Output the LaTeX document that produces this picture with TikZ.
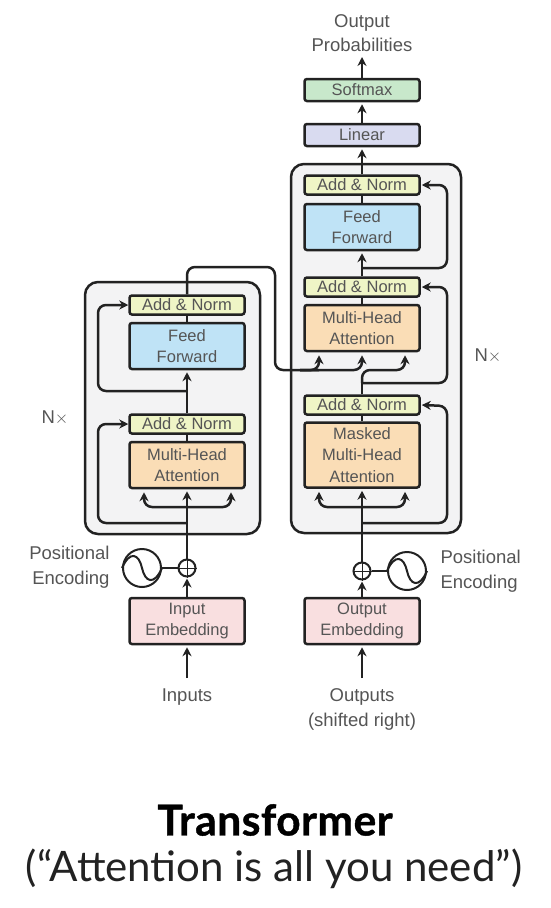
\documentclass[tikz,border=0pt]{standalone}
\usepackage{fontspec}
\setmainfont{Liberation Sans}
\newfontfamily\titlefont[BoldFeatures={FakeBold=1,LetterSpace=1.2}]{Lato}
\usepackage{xcolor}
\usetikzlibrary{arrows.meta, positioning}

\definecolor{linecol}{HTML}{222222}
\definecolor{textcol}{HTML}{555555}
\definecolor{panelcol}{HTML}{F3F3F4}
\definecolor{normcol}{HTML}{EFF5C6}
\definecolor{feedcol}{HTML}{BFE3F6}
\definecolor{attncol}{HTML}{FADDB6}
\definecolor{embedcol}{HTML}{F9DFE0}
\definecolor{softcol}{HTML}{C8E8CB}
\definecolor{lincol}{HTML}{D9DBF0}

\tikzset{
  layer/.style={draw=linecol, line width=2.5pt, rounded corners=2.5pt, minimum width=115pt,
    inner sep=0pt, align=center, text=textcol, font=\fontsize{16.5}{21.5}\selectfont},
  addnorm/.style={layer, fill=normcol, minimum height=19pt},
  feedbox/.style={layer, fill=feedcol, minimum height=46pt},
  attnbox/.style={layer, fill=attncol, minimum height=46pt},
  embedbox/.style={layer, fill=embedcol, minimum height=46pt},
  panel/.style={draw=linecol, line width=2.5pt, fill=panelcol, rounded corners=13pt, inner sep=0pt},
  label/.style={text=textcol, align=center, font=\fontsize{18.5}{24.5}\selectfont},
  conn/.style={draw=linecol, line width=2.5pt, rounded corners=8pt},
  flow/.style={conn, -{Stealth[length=9pt,width=9pt]}},
  fork/.style={conn, {Stealth[length=9pt,width=9pt]}-{Stealth[length=9pt,width=9pt]}},
  sumnode/.style={circle, draw=linecol, line width=2pt, fill=white, minimum size=17pt, inner sep=0pt},
  posnode/.style={circle, draw=linecol, line width=2pt, fill=white, minimum size=38pt, inner sep=0pt}
}

\begin{document}
\begin{tikzpicture}[x=1pt, y=-1pt]
  \useasboundingbox (0,0) rectangle (550,908);
  \fill[white] (0,0) rectangle (550,908);

  % --- Panels ---
  \draw[panel] (85,282) rectangle (260,534);
  \draw[panel] (291,164) rectangle (461,533);

  % --- Encoder ---
  \node[addnorm] (enc_norm2) at (187,305) {Add \& Norm};
  \node[feedbox] (enc_feed) at (187,346) {Feed\\Forward};
  \node[addnorm] (enc_norm1) at (187,424) {Add \& Norm};
  \node[attnbox] (enc_attn) at (187,465) {Multi-Head\\Attention};
  \node[embedbox] (enc_embed) at (187,621) {Input\\Embedding};
  \node[sumnode] (enc_sum) at (187,568) {};
  \node[posnode] (enc_pos) at (142,568) {};
  \node[label, align=right, anchor=east] (enc_poslabel) at (113,567) {Positional\\Encoding};
  \node[label] (enc_n) at (55,418) {N$\times$};
  \node[label] (enc_in) at (187,697) {Inputs};

  % --- Decoder ---
  \node[addnorm] (dec_norm3) at (362,185) {Add \& Norm};
  \node[feedbox] (dec_feed) at (362,227) {Feed\\Forward};
  \node[addnorm] (dec_norm2) at (362,287) {Add \& Norm};
  \node[attnbox] (dec_attn) at (362,328) {Multi-Head\\Attention};
  \node[addnorm] (dec_norm1) at (362,405) {Add \& Norm};
  \node[attnbox, minimum height=65pt] (dec_mask) at (362,455) {Masked\\Multi-Head\\Attention};
  \node[embedbox] (dec_embed) at (362,621) {Output\\Embedding};
  \node[sumnode] (dec_sum) at (362,571) {};
  \node[posnode] (dec_pos) at (407,571) {};
  \node[label, align=left, anchor=west] (dec_poslabel) at (437,571) {Positional\\Encoding};
  \node[label] (dec_n) at (488,356) {N$\times$};
  \node[label] (dec_out) at (362,709.5) {Outputs\\(shifted right)};

  % --- Top of the stack ---
  \node[addnorm, fill=lincol, minimum height=22pt] (linear) at (362,135) {Linear};
  \node[addnorm, fill=softcol, minimum height=22pt] (softmax) at (362,90) {Softmax};
  \node[label] (probs) at (362,33) {Output\\Probabilities};

  % --- Free ends and branch points ---
  \coordinate (enc_start) at (187,678);
  \coordinate (dec_start) at (362,678);
  \coordinate (enc_split1) at (187,523);
  \coordinate (enc_split2) at (187,391);
  \coordinate (dec_split1) at (362,523);
  \coordinate (dec_split2) at (362,383);
  \coordinate (dec_split3) at (362,268);
  \coordinate (memory) at (187,267);
  \coordinate (probs_in) at (362,57);

  % Encoder flow
  \draw[flow] (enc_start) -- ([yshift=-2pt]enc_embed.south);
  \draw[flow] (enc_embed) -- ([yshift=-1pt]enc_sum.south);
  \draw[flow] (enc_sum) -- ([yshift=-2pt]enc_attn.south);
  \draw[conn] (enc_attn) -- (enc_norm1);
  \draw[flow] (enc_norm1) -- ([yshift=-2pt]enc_feed.south);
  \draw[conn] (enc_feed) -- (enc_norm2);
  \draw[fork] ([xshift=-43pt,yshift=-3pt]enc_attn.south) -- (144,507) -- (231,507) -- ([xshift=44pt,yshift=-3pt]enc_attn.south);
  \draw[flow] (enc_split1) -- (98,523) -- (98,424) -- (enc_norm1.west);
  \draw[flow] (enc_split2) -- (98,391) -- (98,305) -- (enc_norm2.west);
  \draw[line width=2pt, draw=linecol] (enc_pos) -- (enc_sum);

  % Decoder flow
  \draw[flow] (dec_start) -- ([yshift=-2pt]dec_embed.south);
  \draw[flow] (dec_embed) -- ([yshift=-1pt]dec_sum.south);
  \draw[flow] (dec_sum) -- ([yshift=-2pt]dec_mask.south);
  \draw[conn] (dec_mask) -- (dec_norm1);
  \draw[fork] ([xshift=-43pt,yshift=-3pt]dec_mask.south) -- (319,507) -- (405,507) -- ([xshift=43pt,yshift=-3pt]dec_mask.south);
  \draw[flow] (dec_split1) -- (447,523) -- (447,406) -- ([xshift=1pt]dec_norm1.east);
  \draw[conn] (dec_norm1) -- (dec_split2);
  \draw[flow] (dec_split2) -- (447,383) -- (447,287) -- ([xshift=1pt]dec_norm2.east);
  \draw[flow] (dec_split2) -- (362,370) -- (405,370) -- ([xshift=43pt,yshift=-3pt]dec_attn.south);
  \draw[conn] (dec_attn) -- (dec_norm2);
  \draw[flow] (dec_norm2) -- ([yshift=-2pt]dec_feed.south);
  \draw[flow] (dec_split3) -- (447,268) -- (447,185) -- ([xshift=1pt]dec_norm3.east);
  \draw[conn] (dec_feed) -- (dec_norm3);
  \draw[line width=2pt, draw=linecol] (dec_pos) -- (dec_sum);

  % Encoder output into decoder
  \draw[conn] (enc_norm2) -- (memory) -- (275,267) -- (275,370) -- (319,370);
  \draw[flow] (300,370) -- (319,370) -- ([xshift=-43pt,yshift=-3pt]dec_attn.south);
  \draw[flow] (300,370) -- (362,370) -- ([yshift=-3pt]dec_attn.south);

  % Output stack
  \draw[flow] (dec_norm3) -- ([yshift=-2pt]linear.south);
  \draw[flow] (linear) -- ([yshift=-2pt]softmax.south);
  \draw[flow] (softmax) -- (probs_in);

  % --- Nodes redrawn on top of connectors ---
  \foreach \sumname in {enc_sum, dec_sum} {
    \draw[line width=1pt, draw=linecol] (\sumname.west) -- (\sumname.east) (\sumname.north) -- (\sumname.south);
  }
  \foreach \posname in {enc_pos, dec_pos} {
    \draw[line width=2pt, draw=linecol] (\posname.west) .. controls ([xshift=-12pt,yshift=18pt]\posname.center) and ([xshift=-3pt,yshift=14pt]\posname.center) .. (\posname.center)
      .. controls ([xshift=3pt,yshift=-14pt]\posname.center) and ([xshift=12pt,yshift=-18pt]\posname.center) .. (\posname.east);
  }

  % --- Title ---
  \node[font=\titlefont\bfseries\fontsize{42.5}{44}\selectfont, text=black] (title) at (275,820) {Transformer};
  \node[font=\titlefont\fontsize{42}{44}\selectfont, text=linecol] (subtitle) at (274,869) {(“Attention is all you need”)};
\end{tikzpicture}
\end{document}
